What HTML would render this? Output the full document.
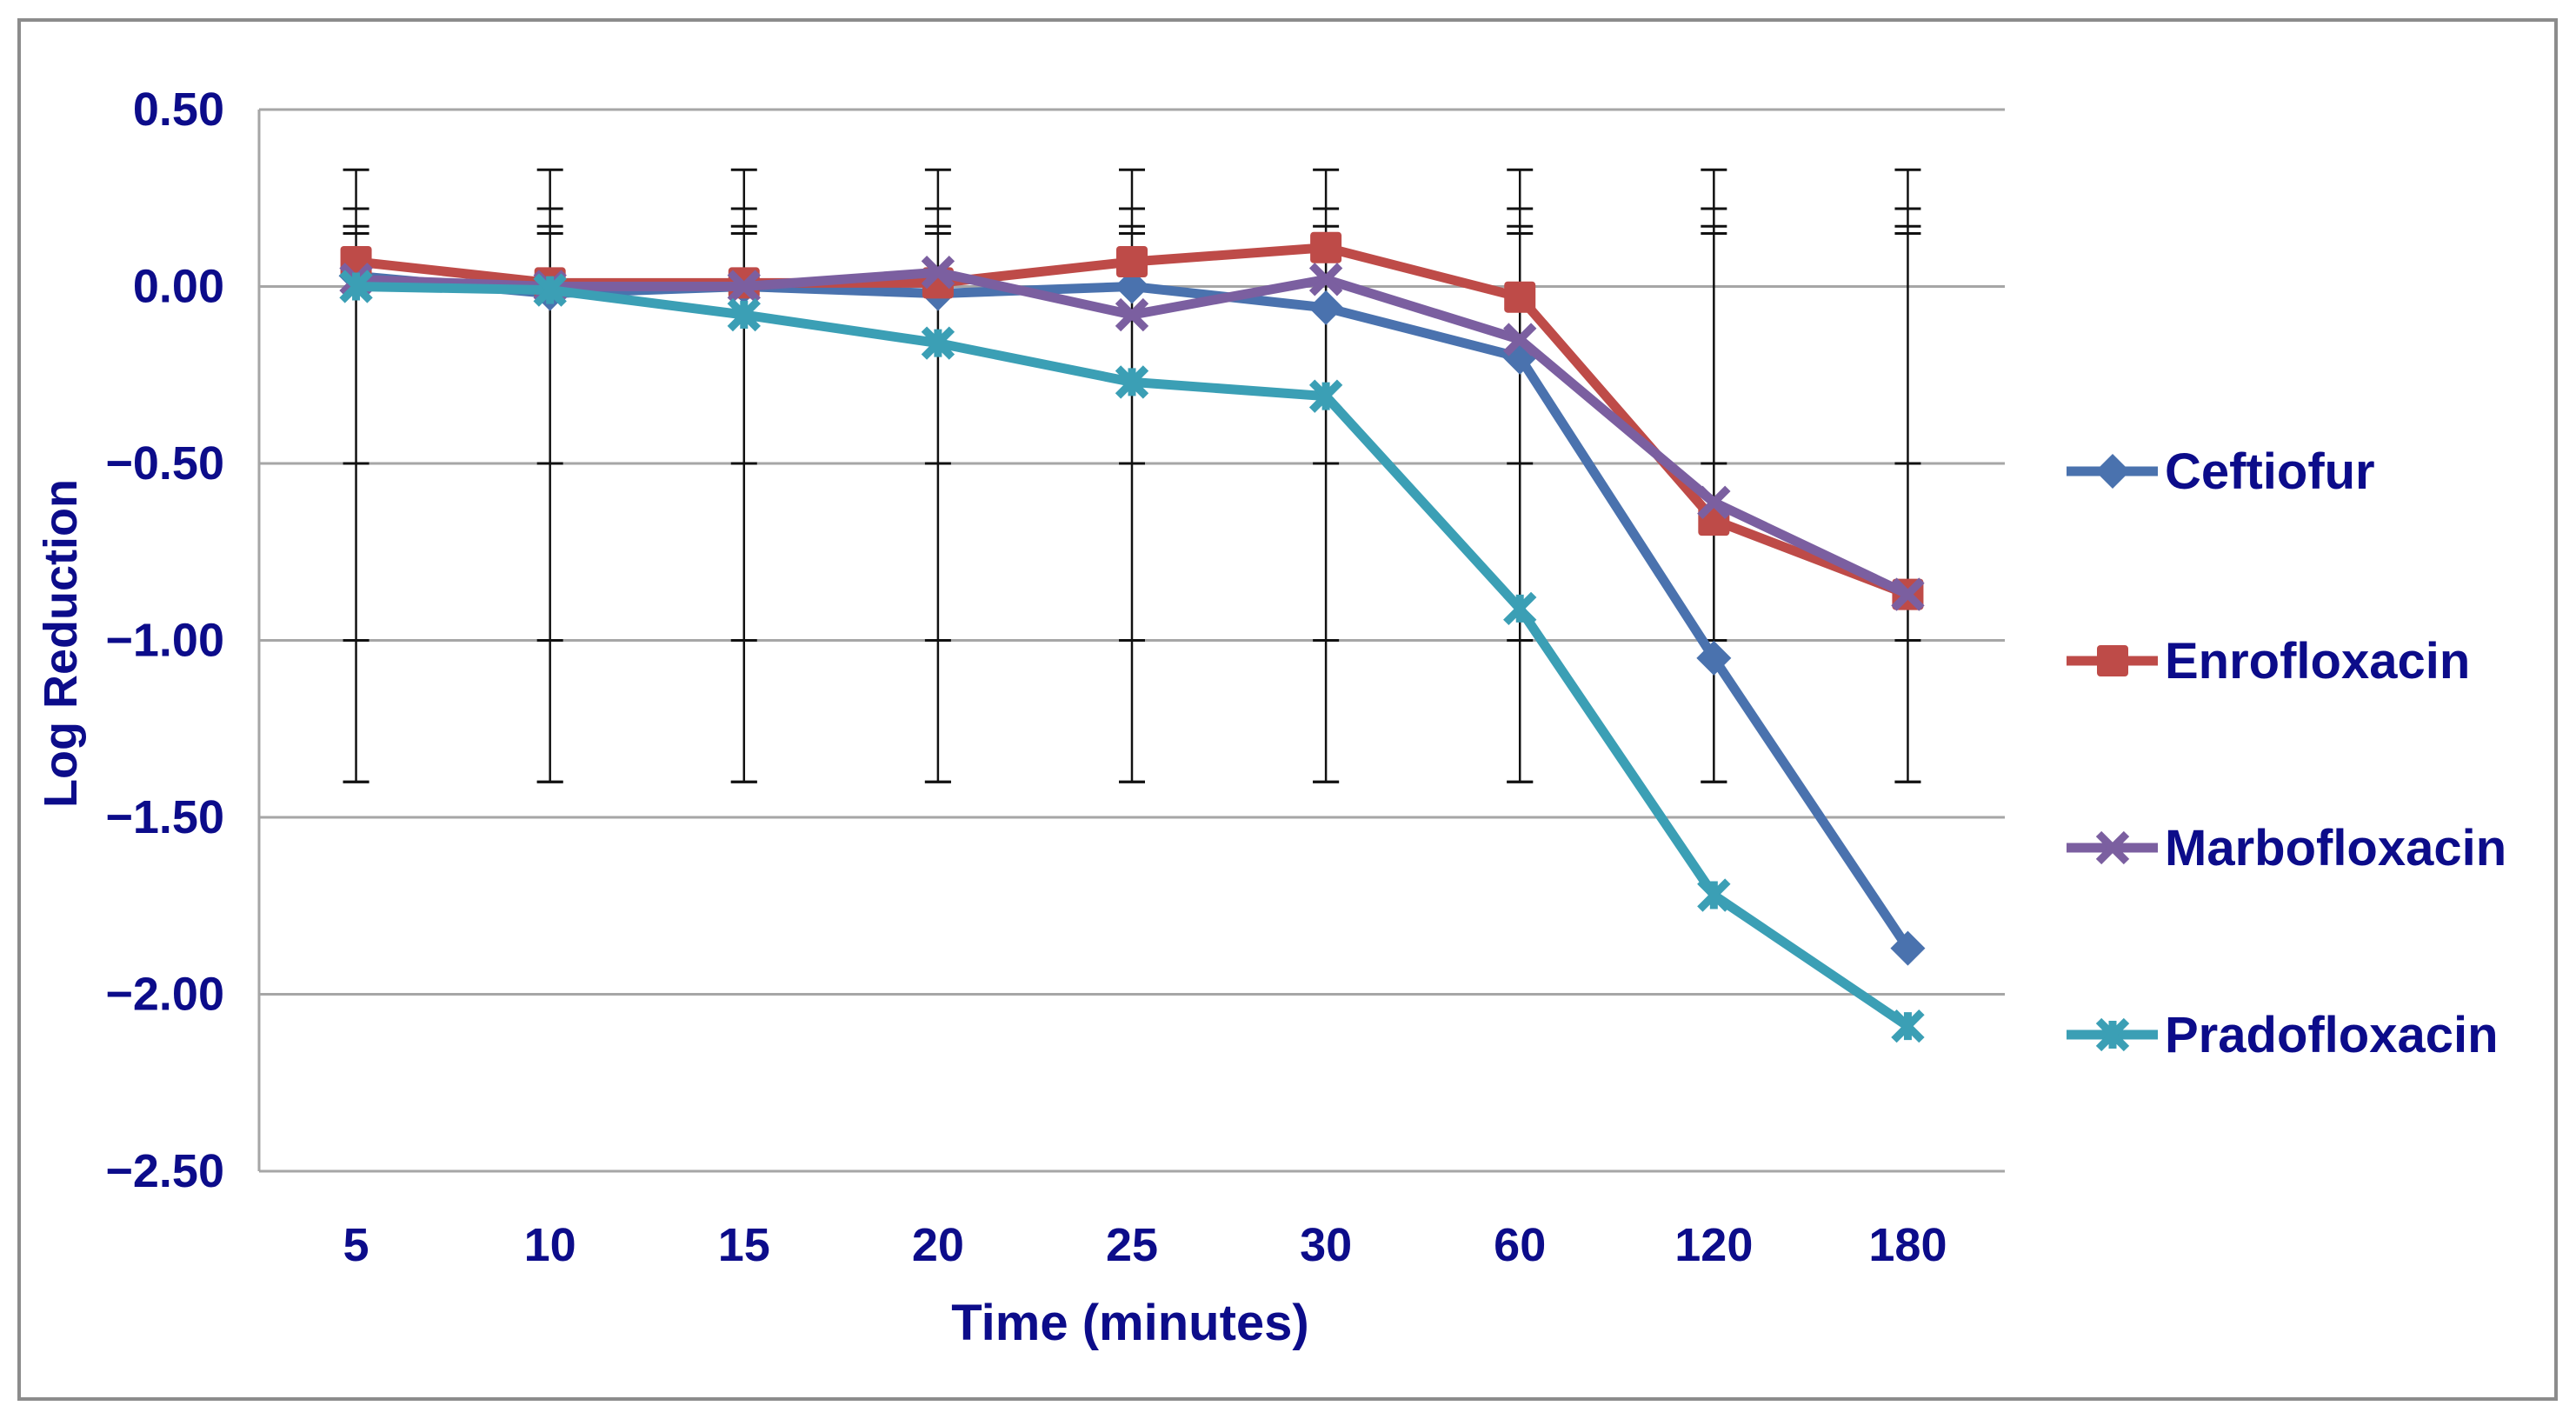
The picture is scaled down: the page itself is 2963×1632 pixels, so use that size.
<!DOCTYPE html>
<html><head><meta charset="utf-8">
<style>
html,body{margin:0;padding:0;background:#fff;width:2963px;height:1632px;overflow:hidden}
svg text{font-family:"Liberation Sans Narrow","Liberation Sans",sans-serif;font-weight:bold;fill:#0c0c8a}
</style></head>
<body>
<svg id="chart" width="2963" height="1632" viewBox="0 0 2963 1632" xmlns="http://www.w3.org/2000/svg">
<rect x="22" y="23" width="2918" height="1586" fill="#fff" stroke="#8c8c8c" stroke-width="4"/>
<g id="grid"></g><g id="errbars"></g><g id="series"></g><g id="axes"></g><g id="legend"></g>
<text x="1300" y="1541" font-size="58" text-anchor="middle">Time (minutes)</text>
<text x="0" y="0" font-size="54" text-anchor="middle" transform="translate(88,740) rotate(-90)">Log Reduction</text>
</svg>
<script>
const categories = ["5","10","15","20","25","30","60","120","180"];
const yTicks = [0.5,0,-0.5,-1,-1.5,-2,-2.5];
const yTickLabels = ["0.50","0.00","\u22120.50","\u22121.00","\u22121.50","\u22122.00","\u22122.50"];
const seriesNames = ["Ceftiofur","Enrofloxacin","Marbofloxacin","Pradofloxacin"];
const ceftiofur = [0.03,-0.02,0.0,-0.02,0.0,-0.06,-0.2,-1.05,-1.87];
const enrofloxacin = [0.07,0.01,0.01,0.01,0.07,0.11,-0.03,-0.66,-0.87];
const marbofloxacin = [0.02,0.0,0.0,0.04,-0.08,0.02,-0.15,-0.61,-0.87];
const pradofloxacin = [0.0,-0.01,-0.08,-0.16,-0.27,-0.31,-0.91,-1.72,-2.09];
const errUpper = [0.33,0.22,0.17,0.15];
const errLower = [-0.5,-1.0,-1.4,-1.4];

const seriesData=[ceftiofur,enrofloxacin,marbofloxacin,pradofloxacin];
const colors=["#4a72ae","#be4b48","#7b5fa0","#3b9fb5"];
const markers=["diamond","square","x","star"];
const L=298,R=2306,T=126,B=1347,yMax=0.5,yMin=-2.5;
const NS="http://www.w3.org/2000/svg";
function y(v){return T+(yMax-v)/(yMax-yMin)*(B-T);}
function x(i){return L+(i+0.5)*(R-L)/categories.length;}
function mk(tag,attrs,parent){const e=document.createElementNS(NS,tag);for(const k in attrs)e.setAttribute(k,attrs[k]);parent.appendChild(e);return e;}
const grid=document.getElementById('grid'),axes=document.getElementById('axes');
yTicks.forEach((t,i)=>{
  const g=mk('line',{x1:L,x2:R,y1:y(t),y2:y(t),stroke:'#a6a6a6','stroke-width':3},grid);
  
  
  const tx=mk('text',{x:258,y:y(t)+18,'font-size':54,'text-anchor':'end'},axes);
  tx.textContent=yTickLabels[i];
  
  
});
const vl=mk('line',{x1:L,x2:L,y1:T,y2:B,stroke:'#a6a6a6','stroke-width':3},grid);


categories.forEach((c,i)=>{
  const tx=mk('text',{x:x(i),y:1450,'font-size':54,'text-anchor':'middle'},axes);
  tx.textContent=c;
  
  
});
const eb=document.getElementById('errbars');
categories.forEach((c,i)=>{
  const top=Math.max(...errUpper),bot=Math.min(...errLower);
  const l=mk('line',{x1:x(i),x2:x(i),y1:y(top),y2:y(bot),stroke:'#111','stroke-width':2.5},eb);
  
  
  errUpper.concat(errLower).forEach(v=>{
    const cap=mk('line',{x1:x(i)-15,x2:x(i)+15,y1:y(v),y2:y(v),stroke:'#111','stroke-width':3},eb);
    
    
  });
});
function marker(type,cx,cy,col,parent,s){
  let e;
  if(type==='diamond'){e=mk('polygon',{points:`${cx},${cy-s} ${cx+s},${cy} ${cx},${cy+s} ${cx-s},${cy}`,fill:col},parent);}
  else if(type==='square'){e=mk('rect',{x:cx-s*0.9,y:cy-s*0.9,width:s*1.8,height:s*1.8,rx:4,fill:col},parent);}
  else if(type==='x'){e=mk('path',{d:`M${cx-s*0.8},${cy-s*0.8}L${cx+s*0.8},${cy+s*0.8}M${cx+s*0.8},${cy-s*0.8}L${cx-s*0.8},${cy+s*0.8}`,stroke:col,'stroke-width':9,fill:'none'},parent);}
  else {e=mk('path',{d:`M${cx-s*0.8},${cy-s*0.8}L${cx+s*0.8},${cy+s*0.8}M${cx+s*0.8},${cy-s*0.8}L${cx-s*0.8},${cy+s*0.8}M${cx},${cy-s*0.8}L${cx},${cy+s*0.8}`,stroke:col,'stroke-width':9,fill:'none'},parent);}
  return e;
}
const sg=document.getElementById('series');
seriesData.forEach((d,si)=>{
  const g=mk('g',{},sg);
  
  
  const p=mk('polyline',{points:d.map((v,i)=>x(i)+','+y(v)).join(' '),fill:'none',stroke:colors[si],'stroke-width':11,'stroke-linejoin':'round'},g);
  
  
  d.forEach((v,i)=>{
    const m=marker(markers[si],x(i),y(v),colors[si],g,20);
    
    
  });
});
const lg=document.getElementById('legend');
const legY=[542,760,975,1190];
seriesNames.forEach((n,i)=>{
  const g=mk('g',{},lg);
  
  
  mk('line',{x1:2377,x2:2482,y1:legY[i],y2:legY[i],stroke:colors[i],'stroke-width':11},g);
  marker(markers[i],2430,legY[i],colors[i],g,20);
  const t=mk('text',{x:2490,y:legY[i]+20,'font-size':58},g);
  t.textContent=n;
  
  
});
</script>
</body></html>
